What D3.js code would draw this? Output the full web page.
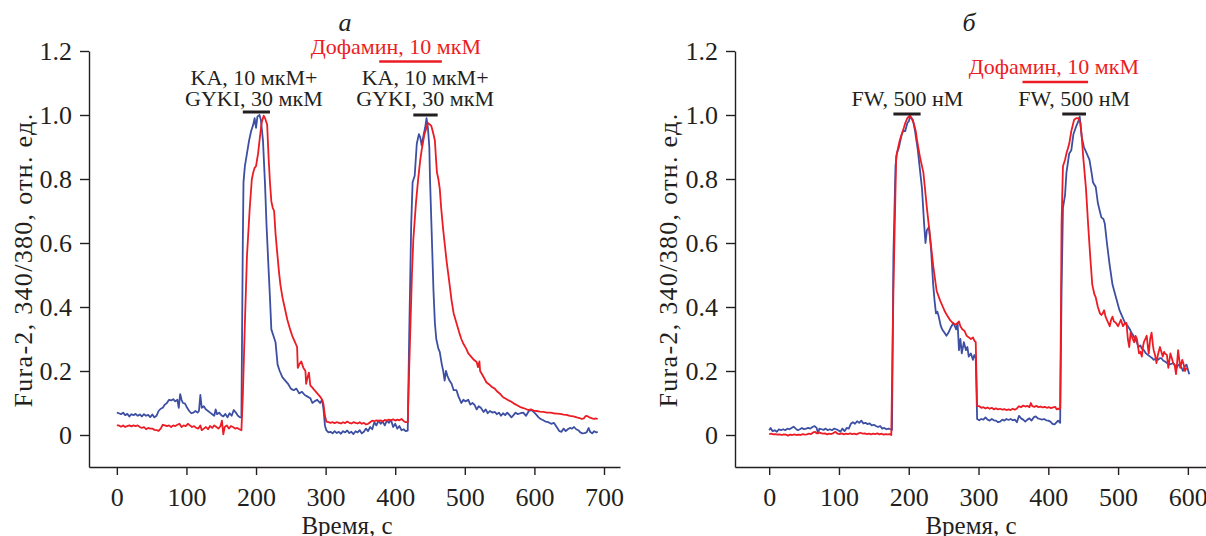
<!DOCTYPE html>
<html>
<head>
<meta charset="utf-8">
<script src="https://cdn.jsdelivr.net/npm/d3@7"></script>
<style>
  body { margin: 0; background: #fff; }
  svg text { font-family: "Liberation Serif", "Times New Roman", serif; fill: #231f20; }
</style>
</head>
<body>
<svg id="chart" width="1206" height="536"></svg>
<script>
// ---- data: [time, value] pairs ----
var blueA = [[0,0.07],[3,0.068],[6,0.065],[9,0.07],[12,0.062],[15,0.066],[18,0.058],[21,0.065],[24,0.062],[27,0.066],[30,0.06],[33,0.064],[36,0.058],[39,0.065],[42,0.06],[45,0.063],[48,0.056],[51,0.064],[54,0.055],[57,0.06],[60,0.075],[63,0.082],[66,0.085],[69,0.095],[72,0.1],[75,0.11],[78,0.108],[81,0.112],[84,0.105],[87,0.11],[89,0.085],[91,0.128],[93,0.11],[95,0.1],[98,0.098],[101,0.085],[104,0.075],[107,0.068],[110,0.07],[113,0.075],[116,0.07],[118,0.075],[120,0.125],[122,0.085],[125,0.09],[128,0.08],[131,0.075],[134,0.07],[137,0.065],[140,0.06],[142,0.08],[144,0.065],[147,0.07],[150,0.062],[153,0.058],[156,0.066],[159,0.055],[162,0.068],[165,0.06],[168,0.078],[171,0.07],[174,0.06],[177,0.055],[179,0.055],
  [181,0.6],[182,0.79],[184,0.84],[187,0.88],[190,0.92],[193,0.95],[196,0.97],[198,0.99],[200,0.96],[202,0.995],[205,1.0],[207,0.985],[210,0.92],[213,0.78],[215,0.66],[218,0.52],[220,0.43],[222,0.33],[225,0.31],[228,0.29],[231,0.22],[234,0.2],[238,0.18],[242,0.17],[246,0.16],[250,0.145],[254,0.14],[258,0.145],[262,0.13],[266,0.135],[270,0.125],[274,0.12],[278,0.115],[281,0.1],[284,0.105],[288,0.11],[292,0.1],[295,0.11],[297,0.08],[299,0.03],[301,0.015],[304,0.008],[307,0.01],[310,0.005],[313,0.012],[316,0.006],[319,0.01],[322,0.004],[325,0.012],[328,0.008],[331,0.014],[334,0.006],[337,0.01],[340,0.003],[343,0.012],[346,0.008],[349,0.015],[352,0.005],[355,0.01],[358,0.02],[361,0.012],[364,0.025],[367,0.018],[370,0.04],[373,0.03],[376,0.045],[379,0.035],[382,0.042],[385,0.03],[388,0.045],[391,0.038],[394,0.047],[397,0.025],[400,0.035],[403,0.02],[406,0.028],[409,0.015],[412,0.018],[415,0.012],[418,0.014],
  [420,0.3],[423,0.66],[425,0.79],[428,0.81],[431,0.91],[434,0.94],[436,0.93],[438,0.905],[441,0.94],[443,0.96],[445,0.99],[447,0.96],[449,0.9],[450,0.8],[452,0.66],[455,0.45],[457,0.35],[459,0.3],[462,0.27],[464,0.26],[467,0.22],[469,0.2],[471,0.17],[473,0.2],[475,0.185],[478,0.17],[481,0.16],[484,0.14],[488,0.14],[491,0.12],[495,0.1],[498,0.11],[501,0.105],[505,0.11],[508,0.095],[511,0.1],[514,0.094],[517,0.08],[520,0.09],[523,0.085],[527,0.072],[530,0.08],[533,0.068],[536,0.075],[540,0.07],[543,0.072],[546,0.065],[549,0.07],[552,0.06],[555,0.068],[558,0.062],[561,0.07],[564,0.063],[567,0.055],[570,0.062],[573,0.07],[576,0.065],[580,0.068],[584,0.07],[588,0.06],[592,0.075],[596,0.078],[600,0.07],[603,0.063],[606,0.055],[609,0.05],[612,0.047],[616,0.042],[620,0.04],[624,0.035],[628,0.038],[632,0.025],[636,0.012],[639,0.01],[642,0.02],[645,0.012],[648,0.018],[651,0.022],[654,0.02],[657,0.025],[660,0.018],[663,0.015],[666,0.008],[669,0.005],[672,0.006],[675,0.008],[678,0.022],[680,0.01],[683,0.005],[686,0.012],[689,0.008],[691,0.01]];

var redA = [[0,0.03],[3,0.03],[6,0.026],[9,0.03],[12,0.025],[15,0.028],[18,0.03],[21,0.027],[24,0.03],[27,0.028],[30,0.03],[33,0.025],[36,0.022],[39,0.025],[42,0.018],[45,0.022],[48,0.02],[51,0.02],[54,0.016],[57,0.015],[60,0.013],[63,0.02],[66,0.032],[69,0.03],[72,0.028],[75,0.03],[78,0.025],[81,0.03],[84,0.028],[87,0.032],[90,0.035],[93,0.025],[96,0.03],[99,0.028],[102,0.035],[105,0.03],[108,0.025],[111,0.028],[114,0.022],[117,0.02],[120,0.03],[122,0.015],[125,0.02],[128,0.025],[131,0.018],[134,0.028],[137,0.022],[140,0.03],[143,0.025],[146,0.02],[149,0.028],[151,0.045],[153,0.002],[155,0.025],[158,0.03],[161,0.02],[164,0.028],[167,0.025],[170,0.02],[173,0.022],[176,0.018],[179,0.015],
  [181,0.12],[184,0.35],[187,0.56],[191,0.71],[194,0.8],[196,0.82],[198,0.835],[200,0.84],[203,0.88],[205,0.92],[208,0.975],[211,0.998],[213,0.99],[216,0.97],[218,0.87],[220,0.79],[222,0.73],[224,0.71],[226,0.7],[228,0.63],[230,0.58],[233,0.51],[235,0.47],[238,0.43],[241,0.4],[245,0.36],[249,0.33],[252,0.31],[256,0.29],[259,0.275],[260,0.21],[262,0.22],[265,0.23],[268,0.21],[271,0.2],[272,0.16],[274,0.18],[276,0.195],[278,0.155],[281,0.148],[284,0.14],[288,0.13],[292,0.12],[295,0.11],[297,0.095],[299,0.06],[301,0.042],[304,0.04],[307,0.038],[310,0.04],[313,0.037],[316,0.04],[319,0.038],[322,0.036],[325,0.04],[328,0.037],[331,0.042],[334,0.038],[337,0.036],[340,0.04],[343,0.038],[346,0.036],[349,0.04],[352,0.035],[355,0.038],[358,0.033],[361,0.035],[364,0.04],[367,0.045],[370,0.043],[373,0.046],[376,0.044],[379,0.046],[382,0.042],[385,0.047],[388,0.045],[391,0.048],[394,0.046],[397,0.049],[400,0.045],[403,0.048],[406,0.046],[409,0.05],[412,0.044],[415,0.04],[418,0.04],
  [420,0.2],[422,0.35],[424,0.5],[426,0.61],[430,0.73],[433,0.8],[436,0.86],[438,0.89],[442,0.94],[445,0.96],[447,0.975],[450,0.97],[452,0.965],[455,0.94],[457,0.92],[459,0.85],[460,0.82],[462,0.8],[464,0.77],[466,0.71],[469,0.64],[471,0.6],[474,0.54],[477,0.49],[481,0.42],[484,0.38],[488,0.35],[492,0.32],[495,0.3],[498,0.285],[502,0.27],[505,0.255],[509,0.245],[513,0.235],[517,0.228],[519,0.212],[521,0.23],[522,0.2],[526,0.185],[531,0.165],[535,0.158],[539,0.15],[543,0.145],[547,0.135],[551,0.128],[555,0.118],[559,0.113],[563,0.108],[567,0.104],[571,0.098],[575,0.093],[579,0.088],[583,0.085],[587,0.082],[591,0.078],[595,0.08],[599,0.076],[603,0.075],[608,0.073],[613,0.072],[618,0.07],[623,0.07],[627,0.068],[632,0.067],[637,0.066],[642,0.064],[646,0.063],[651,0.06],[656,0.058],[661,0.055],[665,0.053],[668,0.05],[671,0.052],[674,0.06],[677,0.058],[680,0.054],[683,0.052],[686,0.05],[688,0.052],[691,0.05]];

var blueB = [[0,0.015],[2,0.022],[5,0.012],[8,0.015],[11,0.01],[14,0.018],[17,0.015],[20,0.018],[23,0.015],[26,0.02],[29,0.018],[32,0.022],[35,0.026],[38,0.02],[41,0.015],[44,0.018],[47,0.022],[50,0.018],[53,0.02],[56,0.022],[59,0.02],[62,0.025],[65,0.028],[68,0.022],[70,0.005],[72,0.02],[75,0.018],[78,0.016],[81,0.02],[84,0.015],[87,0.018],[90,0.015],[93,0.02],[96,0.018],[99,0.015],[102,0.01],[105,0.02],[108,0.012],[111,0.022],[114,0.02],[117,0.035],[120,0.04],[123,0.035],[126,0.043],[129,0.038],[132,0.045],[135,0.036],[138,0.038],[141,0.034],[144,0.036],[147,0.03],[150,0.032],[153,0.028],[156,0.025],[159,0.028],[162,0.02],[165,0.022],[168,0.018],[171,0.02],[174,0.018],[176,0.016],
  [178,0.56],[181,0.84],[183,0.88],[186,0.9],[188,0.92],[190,0.94],[192,0.95],[195,0.95],[198,0.975],[200,0.98],[202,0.995],[204,0.99],[206,0.985],[209,0.95],[211,0.92],[213,0.89],[216,0.83],[219,0.77],[222,0.66],[224,0.6],[226,0.64],[229,0.65],[232,0.58],[235,0.47],[237,0.42],[239,0.38],[241,0.385],[243,0.37],[246,0.34],[248,0.33],[251,0.32],[254,0.31],[257,0.32],[260,0.335],[264,0.35],[266,0.34],[268,0.33],[270,0.35],[272,0.265],[274,0.3],[276,0.255],[279,0.29],[282,0.265],[284,0.275],[286,0.245],[289,0.255],[292,0.235],[294,0.25],[296,0.24],[298,0.05],[301,0.046],[304,0.05],[307,0.048],[310,0.055],[313,0.048],[316,0.045],[319,0.05],[322,0.046],[325,0.045],[328,0.04],[331,0.042],[334,0.048],[337,0.045],[340,0.05],[343,0.047],[346,0.05],[349,0.046],[352,0.048],[355,0.04],[358,0.06],[361,0.052],[364,0.048],[367,0.042],[370,0.048],[373,0.052],[376,0.045],[379,0.055],[382,0.058],[385,0.052],[388,0.05],[391,0.048],[394,0.05],[397,0.046],[400,0.045],[403,0.042],[406,0.035],[409,0.033],[412,0.04],[414,0.045],[417,0.038],
  [419,0.45],[421,0.71],[424,0.75],[426,0.82],[430,0.88],[433,0.89],[436,0.94],[440,0.965],[443,0.98],[445,0.995],[448,0.93],[451,0.9],[455,0.88],[459,0.86],[462,0.82],[464,0.79],[468,0.775],[471,0.725],[476,0.68],[479,0.675],[481,0.66],[484,0.6],[488,0.53],[492,0.47],[497,0.43],[502,0.39],[506,0.37],[510,0.35],[514,0.34],[517,0.33],[519,0.32],[522,0.31],[524,0.3],[527,0.29],[529,0.275],[532,0.28],[534,0.27],[537,0.265],[540,0.255],[543,0.25],[546,0.245],[549,0.24],[551,0.235],[554,0.238],[557,0.235],[560,0.24],[562,0.24],[565,0.232],[567,0.23],[570,0.225],[573,0.22],[576,0.222],[579,0.225],[582,0.215],[584,0.21],[586,0.218],[588,0.22],[591,0.21],[593,0.2],[596,0.215],[598,0.22],[600,0.205],[602,0.19]];

var redB = [[0,0.003],[3,0.004],[6,0.002],[9,0.003],[12,0.001],[15,0.002],[18,0.0],[21,0.002],[24,0.001],[27,-0.002],[30,0.001],[33,0.0],[36,0.002],[39,0.0],[42,0.001],[45,0.0],[48,0.003],[51,0.001],[54,0.002],[57,0.004],[60,0.003],[63,0.008],[66,0.01],[68,0.005],[71,0.008],[74,0.006],[77,0.004],[80,0.005],[83,0.002],[86,0.004],[89,0.003],[92,0.006],[95,0.01],[98,0.004],[101,0.003],[104,0.005],[107,0.002],[110,0.004],[113,0.003],[116,0.005],[119,0.003],[122,0.004],[125,0.002],[128,0.005],[131,0.007],[134,0.004],[137,0.005],[140,0.003],[143,0.004],[146,0.002],[149,0.004],[152,0.003],[155,0.005],[158,0.002],[161,0.004],[164,0.001],[167,0.003],[170,0.002],[173,0.003],[175,0.0],
  [178,0.45],[182,0.87],[185,0.9],[187,0.92],[190,0.94],[193,0.96],[195,0.975],[198,0.99],[200,0.995],[202,0.998],[205,0.985],[207,0.975],[210,0.95],[212,0.92],[216,0.87],[221,0.82],[226,0.71],[231,0.61],[235,0.53],[240,0.45],[245,0.42],[249,0.4],[252,0.385],[256,0.37],[259,0.36],[263,0.35],[267,0.345],[270,0.35],[272,0.355],[274,0.34],[277,0.33],[280,0.325],[283,0.31],[286,0.305],[289,0.3],[292,0.305],[294,0.295],[296,0.29],[298,0.09],[301,0.09],[304,0.085],[307,0.087],[310,0.083],[313,0.086],[316,0.082],[319,0.085],[322,0.08],[325,0.083],[328,0.08],[331,0.082],[334,0.079],[337,0.081],[340,0.078],[343,0.08],[346,0.078],[349,0.082],[352,0.079],[355,0.083],[358,0.09],[361,0.087],[364,0.092],[367,0.089],[370,0.091],[373,0.087],[375,0.1],[377,0.09],[380,0.088],[383,0.091],[386,0.087],[389,0.089],[392,0.086],[395,0.088],[398,0.085],[401,0.087],[404,0.084],[407,0.086],[410,0.088],[412,0.08],[414,0.083],[416,0.08],[417,0.085],
  [418,0.35],[419,0.66],[421,0.84],[424,0.86],[426,0.88],[430,0.91],[433,0.95],[437,0.985],[440,0.99],[443,0.99],[446,0.975],[448,0.93],[450,0.87],[454,0.77],[457,0.66],[460,0.56],[463,0.47],[466,0.44],[468,0.43],[471,0.4],[474,0.38],[476,0.375],[478,0.38],[480,0.39],[482,0.37],[484,0.36],[486,0.35],[488,0.34],[490,0.36],[492,0.37],[494,0.355],[497,0.35],[500,0.34],[502,0.35],[504,0.36],[507,0.34],[510,0.35],[512,0.35],[514,0.3],[516,0.275],[518,0.32],[521,0.3],[523,0.29],[525,0.31],[527,0.3],[530,0.255],[532,0.26],[534,0.245],[536,0.28],[537,0.29],[539,0.3],[541,0.31],[543,0.27],[544,0.255],[546,0.3],[548,0.32],[550,0.28],[551,0.265],[553,0.25],[555,0.225],[557,0.25],[560,0.275],[562,0.26],[564,0.245],[566,0.26],[567,0.255],[570,0.25],[572,0.21],[575,0.255],[577,0.24],[579,0.225],[581,0.22],[583,0.19],[584,0.21],[586,0.265],[588,0.23],[589,0.21],[592,0.235],[594,0.22],[596,0.2],[598,0.21]];

// tick values
var yTicks = [0, 0.2, 0.4, 0.6, 0.8, 1.0, 1.2];
var xTicksA = [0, 100, 200, 300, 400, 500, 600, 700];
var xTicksB = [0, 100, 200, 300, 400, 500, 600];

// annotations: text lines at a time position, bars as [start, end] in seconds
var labelsA = [{t: 197, lines: ["KA, 10 мкМ+", "GYKI, 30 мкМ"]}, {t: 443, lines: ["KA, 10 мкМ+", "GYKI, 30 мкМ"]}];
var barsA = [[181, 220], [426, 461]];
var dopaBarA = [377, 467];
var labelsB = [{t: 198, lines: ["FW, 500 нМ"]}, {t: 437, lines: ["FW, 500 нМ"]}];
var barsB = [[178, 217], [420, 454]];
var dopaBarB = [363, 457];

var BLUE = "#3c4fa3", RED = "#ec1c24", INK = "#231f20";

var svg = d3.select("#chart");

var y = d3.scaleLinear().domain([-0.1, 1.2]).range([467, 51]);

function drawPanel(opts) {
    var x = d3.scaleLinear().domain(opts.xDomain).range(opts.xRange);
    var g = svg.append("g");

    // y axis
    var yAxis = d3.axisLeft(y).tickValues(yTicks).tickSize(9).tickSizeOuter(0).tickPadding(8)
        .tickFormat(function (d) { return d === 0 ? "0" : d3.format(".1f")(d); });
    var ya = g.append("g").attr("transform", "translate(" + opts.xRange[0] + ",0)").call(yAxis);

    // x axis
    var xAxis = d3.axisBottom(x).tickValues(opts.xTicks).tickSize(8).tickSizeOuter(0).tickPadding(13);
    var xa = g.append("g").attr("transform", "translate(0,467)").call(xAxis);

    [ya, xa].forEach(function (a) {
        a.attr("font-family", null).attr("font-size", null);
        a.selectAll("path, line").attr("stroke", INK).attr("stroke-width", 1.4);
        a.selectAll("text").attr("fill", INK).style("font-size", "26px")
            .style("font-family", "'Liberation Serif', 'Times New Roman', serif");
    });

    // traces
    var line = d3.line().x(function (d) { return x(d[0]); }).y(function (d) { return y(d[1]); });
    g.append("path").datum(opts.blue).attr("d", line)
        .attr("fill", "none").attr("stroke", BLUE).attr("stroke-width", 1.8).attr("stroke-linejoin", "round");
    g.append("path").datum(opts.red).attr("d", line)
        .attr("fill", "none").attr("stroke", RED).attr("stroke-width", 1.8).attr("stroke-linejoin", "round");

    // axis titles
    g.append("text").attr("x", opts.xTitleX).attr("y", 534).attr("text-anchor", "middle")
        .style("font-size", "25px").text("Время, с");
    g.append("text").attr("transform", "translate(" + opts.yTitleX + ",260) rotate(-90)")
        .attr("text-anchor", "middle").style("font-size", "26px").style("letter-spacing", "1.3px")
        .text("Fura-2, 340/380, отн. ед.");

    // panel letter
    g.append("text").attr("x", opts.letterX).attr("y", 31).attr("text-anchor", "middle")
        .style("font-size", "26px").style("font-style", "italic").text(opts.letter);

    // stimulus labels and bars
    opts.labels.forEach(function (l) {
        l.lines.forEach(function (s, i) {
            g.append("text").attr("x", x(l.t)).attr("y", 106 - (l.lines.length - 1 - i) * 21)
                .attr("text-anchor", "middle").style("font-size", "22px").text(s);
        });
    });
    opts.bars.forEach(function (b, i) {
        g.append("line").attr("x1", x(b[0])).attr("x2", x(b[1]))
            .attr("y1", opts.barY[i]).attr("y2", opts.barY[i])
            .attr("stroke", INK).attr("stroke-width", 3);
    });
    g.append("line").attr("x1", x(opts.dopaBar[0])).attr("x2", x(opts.dopaBar[1]))
        .attr("y1", opts.dopaY).attr("y2", opts.dopaY)
        .attr("stroke", RED).attr("stroke-width", 2.5);
    g.append("text").attr("x", x(opts.dopaTextT)).attr("y", opts.dopaY - 8)
        .attr("text-anchor", "middle").style("font-size", "22px").style("fill", RED)
        .text("Дофамин, 10 мкМ");
}

drawPanel({
    xDomain: [-40, 723], xRange: [89, 620], xTicks: xTicksA,
    blue: blueA, red: redA, letter: "а", letterX: 345,
    xTitleX: 347, yTitleX: 32,
    labels: labelsA, bars: barsA, barY: [112, 115],
    dopaBar: dopaBarA, dopaY: 61.5, dopaTextT: 401
});

drawPanel({
    xDomain: [-49, 626], xRange: [735, 1206], xTicks: xTicksB,
    blue: blueB, red: redB, letter: "б", letterX: 969,
    xTitleX: 971, yTitleX: 677,
    labels: labelsB, bars: barsB, barY: [114, 114],
    dopaBar: dopaBarB, dopaY: 82, dopaTextT: 408
});
</script>
</body>
</html>
